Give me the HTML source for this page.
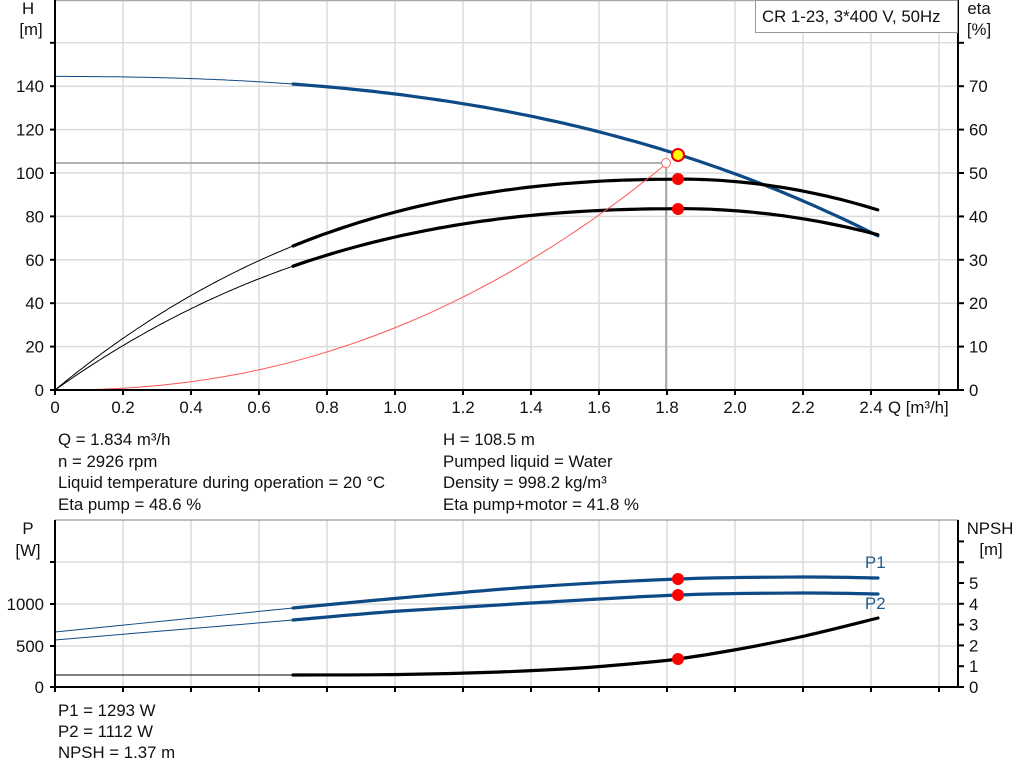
<!DOCTYPE html>
<html><head><meta charset="utf-8"><style>
html,body{margin:0;padding:0;background:#fff;}
svg{display:block;font-family:"Liberation Sans",Arial,sans-serif;}
</style></head><body>
<svg id="s" width="1024" height="781" xmlns="http://www.w3.org/2000/svg">
<g id="grid" stroke="#dcdcdc" stroke-width="1.5" fill="none"></g>
<line x1="55" y1="0.5" x2="958" y2="0.5" stroke="#aaa" stroke-width="1.5"/>
<line x1="55" y1="520" x2="958" y2="520" stroke="#aaa" stroke-width="1.5"/>
<line x1="55" y1="163" x2="666" y2="163" stroke="#999" stroke-width="1.5"/>
<line x1="666" y1="163" x2="666" y2="390" stroke="#999" stroke-width="1.5"/>
<g id="curves" fill="none"></g>
<g id="axes" stroke="#000" stroke-width="2"></g>
<g id="labels" font-size="16.8" fill="#111"></g>
<rect x="755.5" y="0.5" width="202" height="32" fill="#fff" stroke="#999"/>
<g font-size="16.8" fill="#111">
<text x="762" y="22">CR 1-23, 3*400 V, 50Hz</text>
<text x="28" y="14" text-anchor="middle">H</text>
<text x="31" y="35" text-anchor="middle">[m]</text>
<text x="979" y="14" text-anchor="middle">eta</text>
<text x="979" y="35" text-anchor="middle">[%]</text>
<text x="28" y="534" text-anchor="middle">P</text>
<text x="28" y="556" text-anchor="middle">[W]</text>
<text x="990" y="534" text-anchor="middle">NPSH</text>
<text x="991" y="555" text-anchor="middle">[m]</text>
<text x="888" y="413">Q [m³/h]</text>
<text x="865" y="568" fill="#1f5a8c">P1</text>
<text x="865" y="609" fill="#1f5a8c">P2</text>
<text x="58" y="445">Q = 1.834 m³/h</text>
<text x="58" y="467">n = 2926 rpm</text>
<text x="58" y="488">Liquid temperature during operation = 20 °C</text>
<text x="58" y="510">Eta pump = 48.6 %</text>
<text x="443" y="445">H = 108.5 m</text>
<text x="443" y="467">Pumped liquid = Water</text>
<text x="443" y="488">Density = 998.2 kg/m³</text>
<text x="443" y="510">Eta pump+motor = 41.8 %</text>
<text x="58" y="716">P1 = 1293 W</text>
<text x="58" y="737">P2 = 1112 W</text>
<text x="58" y="758">NPSH = 1.37 m</text>
</g>
<g id="dots">
<circle cx="666" cy="163" r="4.5" fill="#fff" stroke="#f66" stroke-width="1"/>
<circle cx="678" cy="155" r="6" fill="#ff0" stroke="#e00" stroke-width="2"/>
<circle cx="678" cy="179" r="6" fill="#f00"/>
<circle cx="678" cy="209" r="6" fill="#f00"/>
<circle cx="678" cy="579" r="6" fill="#f00"/>
<circle cx="678" cy="595" r="6" fill="#f00"/>
<circle cx="678" cy="659" r="6" fill="#f00"/>
</g>
</svg>
<script>
var NS="http://www.w3.org/2000/svg";
function el(p,t,a,txt){var e=document.createElementNS(NS,t);for(var k in a)e.setAttribute(k,a[k]);if(txt!==undefined)e.textContent=txt;document.getElementById(p).appendChild(e);return e;}
var X=function(q){return 55+340*q;};
for(var i=1;i<=13;i++){var x=X(i*0.2);el('grid','line',{x1:x,y1:0,x2:x,y2:390});el('grid','line',{x1:x,y1:520,x2:x,y2:687});}
for(var h=20;h<=160;h+=20){var y=390-2.17*h;el('grid','line',{x1:55,y1:y,x2:958,y2:y});}
[562,604,646].forEach(function(y){el('grid','line',{x1:55,y1:y,x2:958,y2:y});});
el('axes','line',{x1:55,y1:0,x2:55,y2:391});el('axes','line',{x1:54,y1:390,x2:959,y2:390});el('axes','line',{x1:958,y1:0,x2:958,y2:391});
el('axes','line',{x1:55,y1:520,x2:55,y2:688});el('axes','line',{x1:54,y1:687,x2:959,y2:687});el('axes','line',{x1:958,y1:520,x2:958,y2:688});
for(var i=0;i<=13;i++){var x=X(i*0.2);el('axes','line',{x1:x,y1:390,x2:x,y2:395});el('axes','line',{x1:x,y1:687,x2:x,y2:692});
 if(i<=12)el('labels','text',{x:x,y:413,'text-anchor':'middle'},(i*0.2).toFixed(i==0?0:1));}
for(var h=0;h<=160;h+=20){var y=390-2.17*h;el('axes','line',{x1:50,y1:y,x2:55,y2:y});if(h<160)el('labels','text',{x:44,y:y+6,'text-anchor':'end'},h);}
for(var e=0;e<=80;e+=10){var y=390-4.34*e;el('axes','line',{x1:958,y1:y,x2:964,y2:y});if(e<80)el('labels','text',{x:969,y:y+6},e);}
[[687,'0'],[646,'500'],[604,'1000'],[562,'']].forEach(function(a){el('axes','line',{x1:50,y1:a[0],x2:55,y2:a[0]});if(a[1])el('labels','text',{x:44,y:a[0]+6,'text-anchor':'end'},a[1]);});
for(var n=0;n<=7;n++){var y=687-20.8*n;el('axes','line',{x1:958,y1:y,x2:964,y2:y});if(n<=5)el('labels','text',{x:969,y:y+6},n);}
function cr(P){var d='M'+P[0][0]+','+P[0][1];for(var i=0;i<P.length-1;i++){var p0=P[Math.max(0,i-1)],p1=P[i],p2=P[i+1],p3=P[Math.min(P.length-1,i+2)];
 d+='C'+(p1[0]+(p2[0]-p0[0])/6).toFixed(1)+','+(p1[1]+(p2[1]-p0[1])/6).toFixed(1)+' '+(p2[0]-(p3[0]-p1[0])/6).toFixed(1)+','+(p2[1]-(p3[1]-p1[1])/6).toFixed(1)+' '+p2[0]+','+p2[1];}return d;}
function both(P,col){var k=P.findIndex(function(p){return p[0]>=293;});
 el('curves','path',{d:cr(P.slice(0,k+1)),stroke:col,'stroke-width':1});
 el('curves','path',{d:cr(P.slice(k)),stroke:col,'stroke-width':3.2,'stroke-linecap':'round'});}
function fpath(f,q0,q1,col,w){var d='';for(var i=0;i<=80;i++){var q=q0+(q1-q0)*i/80;d+=(i?'L':'M')+X(q).toFixed(1)+','+f(q).toFixed(1);}
 el('curves','path',{d:d,stroke:col,'stroke-width':w,'stroke-linecap':'round','stroke-linejoin':'round'});}
function fboth(f,col){fpath(f,0,0.7,col,1);fpath(f,0.7,2.42,col,3.2);}
fboth(function(q){return 390-2.17*(144.5-4.945*q*q-3.14*q*q*q);},'#0e4a85');
function eta(q,s,k){var e=q<=1.834?(64.8*q-27.33*q*q+3.51*q*q*q)*s:48.6*s-k*(q-1.834)*(q-1.834);return 390-4.34*e;}
fboth(function(q){return eta(q,1,20.7);},'#000');
fboth(function(q){return eta(q,0.86,17.5);},'#000');
fpath(function(q){return 390-2.17*104.5*Math.pow(q/1.8,2.2);},0,1.8,'#f55',1);
both([[55,632],[174,620],[293,608],[400,598],[531,587],[678,579],[800,577],[878,578]],'#0e4a85');
both([[55,640],[174,630],[293,620],[400,611],[531,603],[678,595],[800,593],[878,594]],'#0e4a85');
both([[55,675],[174,675],[293,675],[400,674.5],[500,672],[580,668],[640,663],[678,659],[734,650],[800,637],[878,618]],'#000');
</script>
</body></html>
